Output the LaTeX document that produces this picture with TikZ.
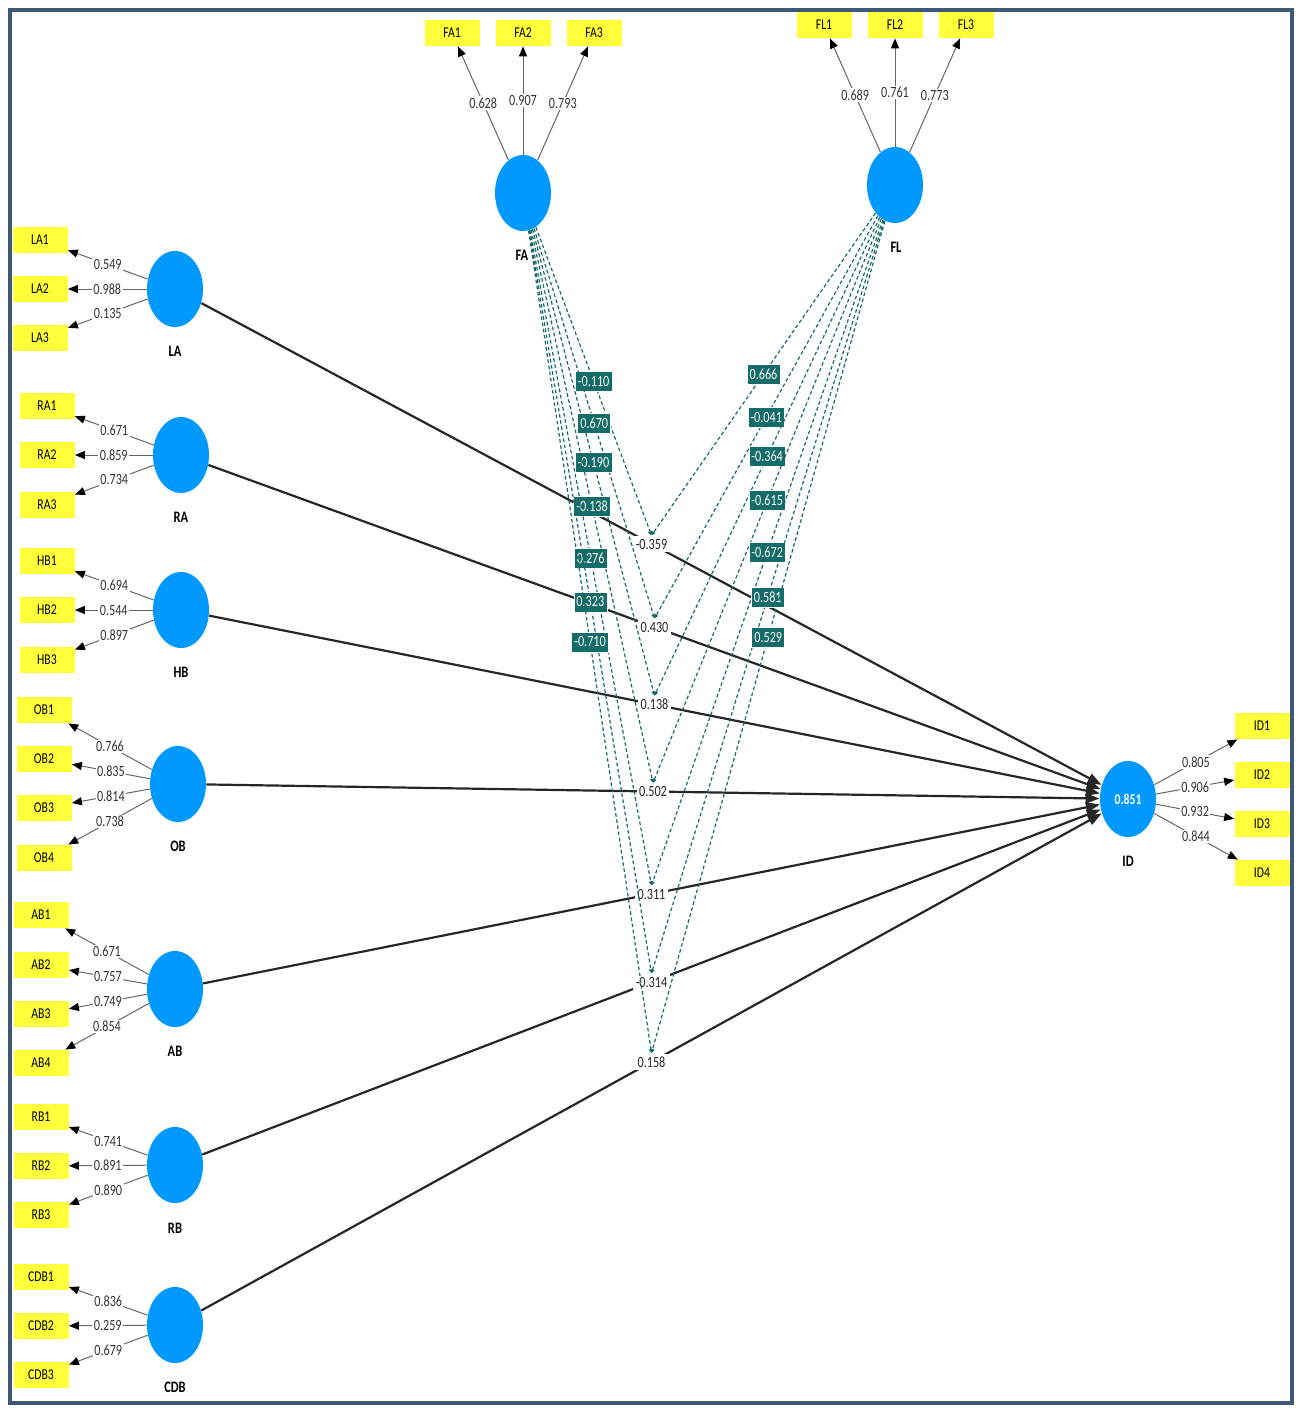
\documentclass[tikz,border=0pt]{standalone}
\usepackage{fontspec}
\setmainfont{Carlito}[FakeStretch=0.78]
\usepackage{tikz}
\usetikzlibrary{shapes.geometric,arrows.meta}
\definecolor{lvblue}{RGB}{0,153,255}
\definecolor{indyellow}{RGB}{255,255,60}
\definecolor{modteal}{RGB}{20,108,104}
\definecolor{frameblue}{RGB}{62,88,118}
\tikzset{
  latent/.style={ellipse,fill=lvblue,minimum width=28pt,minimum height=38pt,inner sep=0pt},
  cname/.style={font=\bfseries\fontsize{8}{9}\selectfont,inner sep=0pt},
  indicator/.style={rectangle,fill=indyellow,minimum width=27.5pt,minimum height=13pt,
    inner sep=0pt,font=\fontsize{7.5}{8}\selectfont},
  loading/.style={draw=black!60,line width=0.5pt,-{Triangle[length=5pt,width=4pt,color=black]}},
  loadlbl/.style={fill=white,inner sep=0.7pt,text=black!80,font=\fontsize{7.8}{8}\selectfont},
  structural/.style={draw=black!85,line width=1.1pt,-{Triangle[length=7pt,width=5pt]}},
  coef/.style={fill=white,inner sep=1.2pt,text=black!85,font=\fontsize{7.8}{8}\selectfont},
  modline/.style={draw=modteal,line width=0.6pt,dash pattern=on 1.8pt off 1.3pt,
    -{Triangle[length=2pt,width=2pt]}},
  modlbl/.style={solid,fill=modteal,draw=white,line width=0.3pt,text=white,inner sep=1.3pt,
    minimum height=10pt,font=\fontsize{7.8}{8}\selectfont}
}
\begin{document}
\begin{tikzpicture}[x=0.5pt,y=-0.5pt]
\useasboundingbox (0,0) rectangle (1302,1413);
%%Frame
\draw[frameblue,line width=1.6pt] (10,10) rectangle (1292,1403);

%%Constructs
\node[latent] (FA) at (523,193) {};
\node[latent] (FL) at (895,185) {};
\node[latent] (LA) at (175,289) {};
\node[latent] (RA) at (181,455) {};
\node[latent] (HB) at (181,610) {};
\node[latent] (OB) at (178,784) {};
\node[latent] (AB) at (175,989) {};
\node[latent] (RB) at (175,1165) {};
\node[latent] (CDB) at (175,1325) {};
\node[latent,text=white,font=\bfseries\fontsize{7.5}{8}\selectfont] (ID) at (1128,799) {0.851};

\node[cname] (FAname) at (522,255) {FA};
\node[cname] (FLname) at (896,247) {FL};
\node[cname] (LAname) at (175,351) {LA};
\node[cname] (RAname) at (181,517) {RA};
\node[cname] (HBname) at (181,672) {HB};
\node[cname] (OBname) at (178,846) {OB};
\node[cname] (ABname) at (175,1051) {AB};
\node[cname] (RBname) at (175,1228) {RB};
\node[cname] (CDBname) at (175,1387) {CDB};
\node[cname] (IDname) at (1128,861) {ID};

%%Indicators
\node[indicator] (FA1) at (452,33) {FA1};
\node[indicator] (FA2) at (523,33) {FA2};
\node[indicator] (FA3) at (594,33) {FA3};
\node[indicator] (FL1) at (824,25) {FL1};
\node[indicator] (FL2) at (895,25) {FL2};
\node[indicator] (FL3) at (966,25) {FL3};
\node[indicator] (LA1) at (40,240) {LA1};
\node[indicator] (LA2) at (40,289) {LA2};
\node[indicator] (LA3) at (40,338) {LA3};
\node[indicator] (RA1) at (47,406) {RA1};
\node[indicator] (RA2) at (47,455) {RA2};
\node[indicator] (RA3) at (47,505) {RA3};
\node[indicator] (HB1) at (47,561) {HB1};
\node[indicator] (HB2) at (47,610) {HB2};
\node[indicator] (HB3) at (47,660) {HB3};
\node[indicator] (OB1) at (44,710) {OB1};
\node[indicator] (OB2) at (44,759) {OB2};
\node[indicator] (OB3) at (44,808) {OB3};
\node[indicator] (OB4) at (44,858) {OB4};
\node[indicator] (AB1) at (41,915) {AB1};
\node[indicator] (AB2) at (41,965) {AB2};
\node[indicator] (AB3) at (41,1014) {AB3};
\node[indicator] (AB4) at (41,1063) {AB4};
\node[indicator] (RB1) at (41,1117) {RB1};
\node[indicator] (RB2) at (41,1166) {RB2};
\node[indicator] (RB3) at (41,1215) {RB3};
\node[indicator] (CDB1) at (41,1277) {CDB1};
\node[indicator] (CDB2) at (41,1326) {CDB2};
\node[indicator] (CDB3) at (41,1375) {CDB3};
\node[indicator] (ID1) at (1262,726) {ID1};
\node[indicator] (ID2) at (1262,775) {ID2};
\node[indicator] (ID3) at (1262,824) {ID3};
\node[indicator] (ID4) at (1262,873) {ID4};

%%Loadings
\draw[loading] (FA) -- node[loadlbl] {0.628} (FA1);
\draw[loading] (FA) -- node[loadlbl] {0.907} (FA2);
\draw[loading] (FA) -- node[loadlbl] {0.793} (FA3);
\draw[loading] (FL) -- node[loadlbl] {0.689} (FL1);
\draw[loading] (FL) -- node[loadlbl] {0.761} (FL2);
\draw[loading] (FL) -- node[loadlbl] {0.773} (FL3);
\draw[loading] (LA) -- node[loadlbl] {0.549} (LA1);
\draw[loading] (LA) -- node[loadlbl] {0.988} (LA2);
\draw[loading] (LA) -- node[loadlbl] {0.135} (LA3);
\draw[loading] (RA) -- node[loadlbl] {0.671} (RA1);
\draw[loading] (RA) -- node[loadlbl] {0.859} (RA2);
\draw[loading] (RA) -- node[loadlbl] {0.734} (RA3);
\draw[loading] (HB) -- node[loadlbl] {0.694} (HB1);
\draw[loading] (HB) -- node[loadlbl] {0.544} (HB2);
\draw[loading] (HB) -- node[loadlbl] {0.897} (HB3);
\draw[loading] (OB) -- node[loadlbl] {0.766} (OB1);
\draw[loading] (OB) -- node[loadlbl] {0.835} (OB2);
\draw[loading] (OB) -- node[loadlbl] {0.814} (OB3);
\draw[loading] (OB) -- node[loadlbl] {0.738} (OB4);
\draw[loading] (AB) -- node[loadlbl] {0.671} (AB1);
\draw[loading] (AB) -- node[loadlbl] {0.757} (AB2);
\draw[loading] (AB) -- node[loadlbl] {0.749} (AB3);
\draw[loading] (AB) -- node[loadlbl] {0.854} (AB4);
\draw[loading] (RB) -- node[loadlbl] {0.741} (RB1);
\draw[loading] (RB) -- node[loadlbl] {0.891} (RB2);
\draw[loading] (RB) -- node[loadlbl] {0.890} (RB3);
\draw[loading] (CDB) -- node[loadlbl] {0.836} (CDB1);
\draw[loading] (CDB) -- node[loadlbl] {0.259} (CDB2);
\draw[loading] (CDB) -- node[loadlbl] {0.679} (CDB3);
\draw[loading] (ID) -- node[loadlbl] {0.805} (ID1);
\draw[loading] (ID) -- node[loadlbl] {0.906} (ID2);
\draw[loading] (ID) -- node[loadlbl] {0.932} (ID3);
\draw[loading] (ID) -- node[loadlbl] {0.844} (ID4);

%%Paths to ID
\draw[structural] (LA) -- node[coef] (cLA) {-0.359} (ID);
\draw[structural] (RA) -- node[coef] (cRA) {0.430} (ID);
\draw[structural] (HB) -- node[coef] (cHB) {0.138} (ID);
\draw[structural] (OB) -- node[coef] (cOB) {0.502} (ID);
\draw[structural] (AB) -- node[coef] (cAB) {0.311} (ID);
\draw[structural] (RB) -- node[coef] (cRB) {-0.314} (ID);
\draw[structural] (CDB) -- node[coef] (cCDB) {0.158} (ID);

%%Moderation by FA
\draw[modline] (FA) -- node[modlbl] {-0.110} (cLA.north);
\draw[modline] (FA) -- node[modlbl] {0.670} (cRA.north);
\draw[modline] (FA) -- node[modlbl] {-0.190} (cHB.north);
\draw[modline] (FA) -- node[modlbl] {-0.138} (cOB.north);
\draw[modline] (FA) -- node[modlbl] {0.276} (cAB.north);
\draw[modline] (FA) -- node[modlbl] {0.323} (cRB.north);
\draw[modline] (FA) -- node[modlbl] {-0.710} (cCDB.north);

%%Moderation by FL
\draw[modline] (FL) -- node[modlbl] {0.666} (cLA.north);
\draw[modline] (FL) -- node[modlbl] {-0.041} (cRA.north);
\draw[modline] (FL) -- node[modlbl] {-0.364} (cHB.north);
\draw[modline] (FL) -- node[modlbl] {-0.615} (cOB.north);
\draw[modline] (FL) -- node[modlbl] {-0.672} (cAB.north);
\draw[modline] (FL) -- node[modlbl] {0.581} (cRB.north);
\draw[modline] (FL) -- node[modlbl] {0.529} (cCDB.north);
\end{tikzpicture}
\end{document}
